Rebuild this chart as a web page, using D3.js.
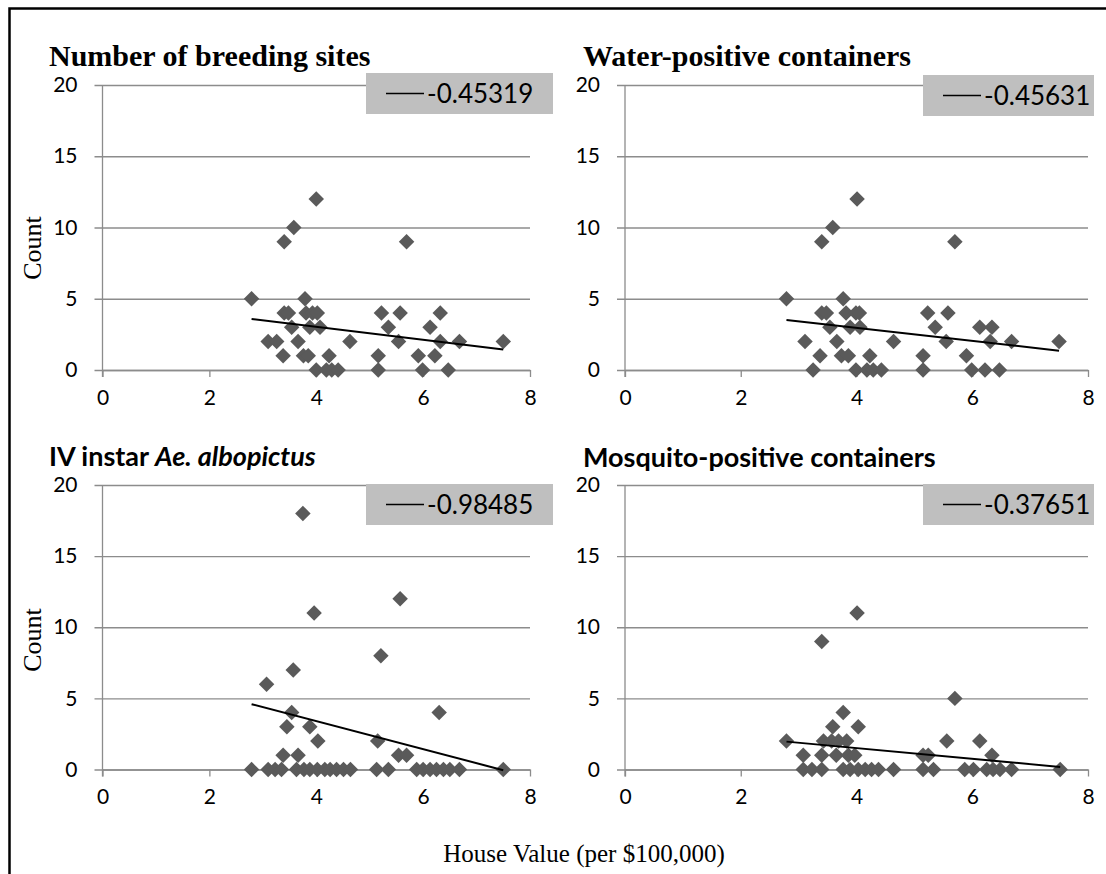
<!DOCTYPE html>
<html>
<head>
<meta charset="utf-8">
<script src="https://cdn.jsdelivr.net/npm/d3@7"></script>
<style>
  html, body { margin: 0; padding: 0; background: #ffffff; }
  svg { display: block; }
</style>
</head>
<body>
<svg id="chart" width="1106" height="874"></svg>
<script>
// ---------------- DATA ----------------
const xTicks = [0, 2, 4, 6, 8];
const yTicks = [0, 5, 10, 15, 20];
const panelTitles = ["Number of breeding sites", "Water-positive containers", "IV instar Ae. albopictus", "Mosquito-positive containers"];
const legendLabels = ["-0.45319", "-0.45631", "-0.98485", "-0.37651"];
const trendSlopes = [-0.45319, -0.45631, -0.98485, -0.37651];
const trendIntercepts = [4.84, 4.78, 7.34, 3.01];
const yAxisTitle = "Count";
const xAxisTitle = "House Value (per $100,000)";

const breedingX = [4.0, 3.58, 3.40, 5.69, 2.79, 3.79, 3.40, 3.48, 3.81, 3.93, 4.02, 5.22, 5.57, 6.32, 3.54, 3.88, 4.07, 5.35, 6.13, 3.10, 3.26, 3.66, 4.63, 5.54, 6.32, 6.68, 7.5, 3.38, 3.76, 3.85, 4.24, 5.16, 5.91, 6.22, 4.0, 4.19, 4.29, 4.41, 5.16, 5.99, 6.47];
const breedingY = [12, 10, 9, 9, 5, 5, 4, 4, 4, 4, 4, 4, 4, 4, 3, 3, 3, 3, 3, 2, 2, 2, 2, 2, 2, 2, 2, 1, 1, 1, 1, 1, 1, 1, 0, 0, 0, 0, 0, 0, 0];

const waterX = [4.01, 3.59, 3.40, 5.70, 2.79, 3.77, 3.40, 3.48, 3.82, 3.99, 4.05, 5.23, 5.58, 3.54, 3.89, 4.06, 5.36, 6.13, 6.34, 3.11, 3.66, 4.64, 5.55, 6.31, 6.68, 7.5, 3.37, 3.74, 3.86, 4.23, 5.15, 5.90, 3.25, 3.99, 4.18, 4.29, 4.43, 5.15, 5.99, 6.22, 6.47];
const waterY = [12, 10, 9, 9, 5, 5, 4, 4, 4, 4, 4, 4, 4, 3, 3, 3, 3, 3, 3, 2, 2, 2, 2, 2, 2, 2, 1, 1, 1, 1, 1, 1, 0, 0, 0, 0, 0, 0, 0, 0, 0];

const instarX = [3.75, 5.57, 3.96, 5.21, 3.57, 3.07, 3.54, 6.30, 3.45, 3.88, 4.03, 5.15, 3.38, 3.66, 5.54, 5.69, 2.79, 3.10, 3.23, 3.35, 3.63, 3.77, 3.88, 4.02, 4.16, 4.26, 4.38, 4.51, 4.64, 5.13, 5.35, 5.88, 6.0, 6.13, 6.25, 6.38, 6.50, 6.68, 7.5];
const instarY = [18, 12, 11, 8, 7, 6, 4, 4, 3, 3, 2, 2, 1, 1, 1, 1, 0, 0, 0, 0, 0, 0, 0, 0, 0, 0, 0, 0, 0, 0, 0, 0, 0, 0, 0, 0, 0, 0, 0];

const mosqX = [4.01, 3.40, 5.70, 3.77, 3.59, 4.03, 2.79, 3.43, 3.57, 3.69, 3.83, 5.56, 6.13, 3.08, 3.40, 3.65, 3.86, 3.97, 5.15, 5.24, 6.34, 3.08, 3.23, 3.40, 3.77, 3.89, 4.03, 4.15, 4.26, 4.38, 4.64, 5.15, 5.33, 5.87, 6.02, 6.25, 6.36, 6.48, 6.68, 7.52];
const mosqY = [11, 9, 5, 4, 3, 3, 2, 2, 2, 2, 2, 2, 2, 1, 1, 1, 1, 1, 1, 1, 1, 0, 0, 0, 0, 0, 0, 0, 0, 0, 0, 0, 0, 0, 0, 0, 0, 0, 0, 0];

const seriesX = [breedingX, waterX, instarX, mosqX];
const seriesY = [breedingY, waterY, instarY, mosqY];

// ---------------- LAYOUT ----------------
const svg = d3.select("#chart");
const W = 1106, H = 874;
svg.append("rect").attr("width", W).attr("height", H).attr("fill", "#fff");

// outer frame (left & top visible)
svg.append("path")
  .attr("d", `M9.5,${H + 5} L9.5,8.5 L${W + 5},8.5`)
  .attr("fill", "none").attr("stroke", "#000").attr("stroke-width", 2.5);

const panels = [
  { x0: 102.5, x1: 530, y0: 370, y1: 85, titleY: 66, serif: true, legX: 366, legW: 187, legOff: -12 },
  { x0: 625, x1: 1088, y0: 370, y1: 85, titleY: 66, serif: true, legX: 923, legW: 171, legOff: -10 },
  { x0: 102.5, x1: 530, y0: 769.5, y1: 485, titleY: 466, serif: false, legX: 366, legW: 187, legOff: -1 },
  { x0: 625, x1: 1088, y0: 769.5, y1: 485, titleY: 467, serif: false, legX: 923, legW: 171, legOff: -1 }
];

const gridColor = "#8c8c8c";
const markColor = "#5a5a5a";
const labelFont = "Lato, 'Open Sans', sans-serif";

const diamond = {
  draw(ctx, size) {
    const r = Math.sqrt(size / 2);
    ctx.moveTo(0, -r); ctx.lineTo(r, 0); ctx.lineTo(0, r); ctx.lineTo(-r, 0); ctx.closePath();
  }
};

panels.forEach((p, i) => {
  const g = svg.append("g");
  const x = d3.scaleLinear().domain([0, 8]).range([p.x0, p.x1]);
  const y = d3.scaleLinear().domain([0, 20]).range([p.y0, p.y1]);
  const w = p.x1 - p.x0;

  // horizontal gridlines + left ticks + y labels
  const yAx = d3.axisLeft(y).tickValues(yTicks).tickSize(-(w + 8)).tickPadding(17).tickFormat(d3.format("d"));
  const gy = g.append("g").attr("transform", `translate(${p.x0 - 8},0)`).call(yAx);
  gy.select(".domain").remove();
  gy.selectAll(".tick line").attr("stroke", gridColor).attr("stroke-width", 1.3);
  gy.selectAll(".tick text").attr("font-family", labelFont).attr("font-size", 21).attr("fill", "#000");

  // x axis with downward ticks
  const xAx = d3.axisBottom(x).tickValues(xTicks).tickSize(7).tickSizeOuter(0).tickPadding(13).tickFormat(d3.format("d"));
  const gx = g.append("g").attr("transform", `translate(0,${p.y0})`).call(xAx);
  gx.select(".domain").attr("stroke", gridColor).attr("stroke-width", 1.3);
  gx.selectAll(".tick line").attr("stroke", gridColor).attr("stroke-width", 1.3);
  gx.selectAll(".tick text").attr("font-family", labelFont).attr("font-size", 21).attr("fill", "#000");

  // vertical axis line
  g.append("line").attr("x1", p.x0).attr("x2", p.x0).attr("y1", p.y1).attr("y2", p.y0 + 7)
    .attr("stroke", gridColor).attr("stroke-width", 1.3);

  // points
  const pts = seriesX[i].map((v, k) => ({ x: v, y: seriesY[i][k] }));
  g.append("g").selectAll("path").data(pts).join("path")
    .attr("d", d3.symbol().type(diamond).size(120))
    .attr("transform", d => `translate(${x(d.x)},${y(d.y)})`)
    .attr("fill", markColor);

  // trend line
  const ext = d3.extent(seriesX[i]);
  const line = d3.line().x(d => x(d)).y(d => y(trendIntercepts[i] + trendSlopes[i] * d));
  g.append("path").datum(ext).attr("d", line).attr("fill", "none").attr("stroke", "#000").attr("stroke-width", 2);

  // legend
  const ly = p.y1 + p.legOff;
  g.append("rect").attr("x", p.legX).attr("y", ly).attr("width", p.legW).attr("height", 41).attr("fill", "#bfbfbf");
  g.append("line").attr("x1", p.legX + 20).attr("x2", p.legX + 58).attr("y1", ly + 20.5).attr("y2", ly + 20.5)
    .attr("stroke", "#000").attr("stroke-width", 1.6);
  g.append("text").attr("x", p.legX + 61).attr("y", ly + 29.5)
    .attr("font-family", labelFont).attr("font-size", 26).attr("fill", "#000").text(legendLabels[i]);

  // title
  const t = svg.append("text").attr("x", i % 2 === 0 ? 49 : 583).attr("y", p.titleY).attr("fill", "#000").attr("font-weight", "bold");
  if (p.serif) {
    t.attr("font-family", "'Liberation Serif', 'Times New Roman', serif").attr("font-size", 30).text(panelTitles[i]);
  } else {
    t.attr("font-family", labelFont).attr("font-size", 27);
    if (i === 2) {
      t.append("tspan").text("IV instar ");
      t.append("tspan").attr("font-style", "italic").text("Ae. albopictus");
    } else {
      t.text(panelTitles[i]);
    }
  }
});

// Count labels
[248, 640].forEach(cy => {
  svg.append("text").attr("transform", `translate(41,${cy}) rotate(-90)`).attr("text-anchor", "middle")
    .attr("font-family", "'Liberation Serif', 'Times New Roman', serif").attr("font-size", 26).attr("fill", "#000")
    .text(yAxisTitle);
});

// x axis title
svg.append("text").attr("x", 584).attr("y", 862).attr("text-anchor", "middle")
  .attr("font-family", "'Liberation Serif', 'Times New Roman', serif").attr("font-size", 25).attr("fill", "#000")
  .text(xAxisTitle);
</script>
</body>
</html>
